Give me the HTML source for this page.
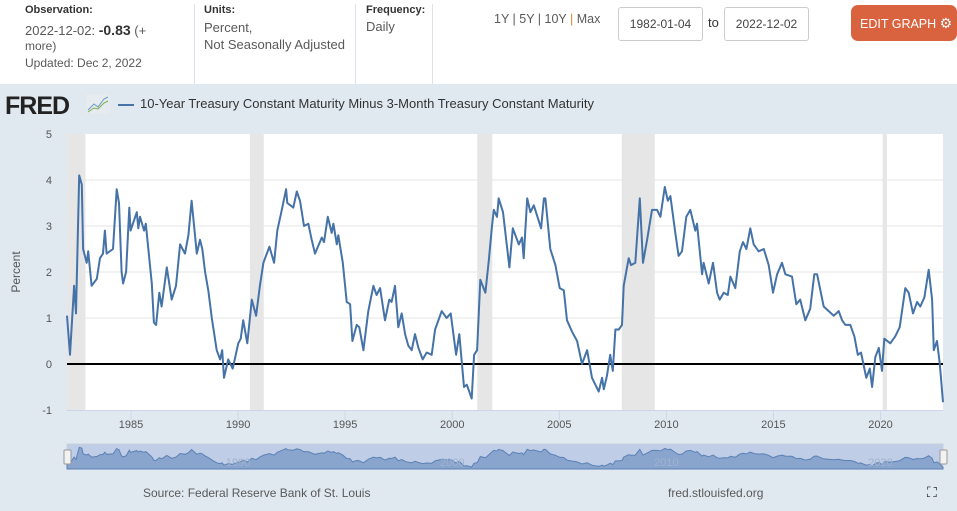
<!DOCTYPE html>
<html><head><meta charset="utf-8"><style>
*{margin:0;padding:0;box-sizing:border-box}
body{width:957px;height:511px;overflow:hidden;background:#e1e9f0;font-family:"Liberation Sans",sans-serif;position:relative}
.hdr{position:absolute;left:0;top:0;width:957px;height:84px;background:#fff}
.t{position:absolute;font-size:13px;color:#595959;white-space:nowrap}
.b{font-weight:bold;color:#333;font-size:11px}
.sep{position:absolute;top:4px;width:1px;height:80px;background:#dde3ea}
.inp{position:absolute;top:7px;height:34px;width:85px;border:1px solid #ccc;border-radius:3px;background:#fff;font-size:12px;color:#444;text-align:center;line-height:32px}
</style></head><body>
<div class="hdr">
<div class="t b" style="left:25px;top:4px">Observation:</div>
<div class="t" style="left:25px;top:22px">2022-12-02: <b style="color:#333;font-size:14px">-0.83</b> (+</div>
<div class="t" style="left:25px;top:39px;font-size:12px">more)</div>
<div class="t" style="left:25px;top:56px;font-size:12px">Updated: Dec 2, 2022</div>
<div class="sep" style="left:194px"></div>
<div class="t b" style="left:204px;top:4px">Units:</div>
<div class="t" style="left:204px;top:19px;line-height:17px">Percent,<br>Not Seasonally Adjusted</div>
<div class="sep" style="left:355px"></div>
<div class="t b" style="left:366px;top:4px">Frequency:</div>
<div class="t" style="left:366px;top:19px">Daily</div>
<div class="sep" style="left:432px"></div>
<div class="t" style="left:494px;top:12px;font-size:12.5px">1Y | 5Y | 10Y <span style="color:#d38a3c">|</span> Max</div>
<div class="inp" style="left:618px">1982-01-04</div>
<div class="t" style="left:708px;top:15px;color:#333">to</div>
<div class="inp" style="left:724px">2022-12-02</div>
<div style="position:absolute;left:851px;top:5px;width:106px;height:36px;background:#d9623f;border-radius:7px;color:#fff;font-size:12.5px;line-height:36px;padding-left:9px;white-space:nowrap">EDIT GRAPH <span style="font-size:14px">⚙</span></div>
</div>
<div style="position:absolute;left:5px;top:92px;font:900 25px 'Liberation Sans',sans-serif;color:#222;letter-spacing:-1px">FRED</div>
<svg style="position:absolute;left:86px;top:94px" width="24" height="20"><rect width="24" height="20" fill="#e6ebf0"/><polyline points="2,16 8,10 12,13 18,5 22,3" stroke="#6a9ac0" fill="none"/><polyline points="2,18 8,14 12,15 18,9 22,7" stroke="#7ab048" fill="none"/></svg>
<div style="position:absolute;left:118px;top:104px;width:16px;height:2px;background:#4572a7"></div>
<div class="t" style="left:140px;top:96px;color:#333;font-size:13px">10-Year Treasury Constant Maturity Minus 3-Month Treasury Constant Maturity</div>
<svg id="ch" width="957" height="511" style="position:absolute;left:0;top:0"></svg>
<div class="t" style="left:143px;top:486px;font-size:12px">Source: Federal Reserve Bank of St. Louis</div>
<div class="t" style="left:668px;top:486px;font-size:12px">fred.stlouisfed.org</div>
<div class="t" style="left:927px;top:484px;font-size:14px;color:#222">⛶</div>
<script>
const years=[1982.01,1982.15,1982.34,1982.43,1982.58,1982.70,1982.76,1982.93,1983.00,1983.16,1983.40,1983.55,1983.69,1983.78,1983.86,1984.16,1984.33,1984.44,1984.56,1984.63,1984.77,1984.92,1984.98,1985.27,1985.34,1985.42,1985.61,1985.69,1985.97,1986.07,1986.17,1986.32,1986.43,1986.67,1986.90,1987.10,1987.29,1987.52,1987.68,1987.83,1988.07,1988.22,1988.33,1988.46,1988.61,1988.77,1989.00,1989.16,1989.26,1989.34,1989.54,1989.75,1990.01,1990.12,1990.24,1990.43,1990.64,1990.84,1991.02,1991.18,1991.34,1991.46,1991.68,1991.83,1992.04,1992.24,1992.30,1992.58,1992.74,1992.89,1993.08,1993.28,1993.44,1993.59,1993.91,1994.01,1994.19,1994.37,1994.45,1994.61,1994.68,1994.89,1995.07,1995.23,1995.34,1995.54,1995.66,1995.85,1996.08,1996.32,1996.47,1996.63,1996.86,1997.06,1997.17,1997.33,1997.48,1997.64,1997.80,1997.95,1998.11,1998.26,1998.42,1998.62,1998.81,1999.04,1999.20,1999.51,1999.74,1999.93,2000.18,2000.33,2000.55,2000.68,2000.91,2001.02,2001.16,2001.31,2001.55,2001.71,2001.86,2001.94,2002.09,2002.17,2002.37,2002.67,2002.83,2003.11,2003.26,2003.34,2003.50,2003.65,2003.81,2004.15,2004.28,2004.35,2004.58,2004.82,2005.02,2005.21,2005.36,2005.60,2005.83,2006.06,2006.30,2006.53,2006.84,2007.00,2007.08,2007.23,2007.38,2007.50,2007.62,2007.78,2007.93,2008.01,2008.24,2008.35,2008.55,2008.76,2008.91,2009.10,2009.33,2009.57,2009.72,2009.93,2010.07,2010.19,2010.42,2010.57,2010.73,2010.93,2011.12,2011.35,2011.43,2011.67,2011.74,2011.98,2012.18,2012.37,2012.49,2012.68,2012.87,2012.99,2013.22,2013.43,2013.58,2013.74,2013.92,2014.08,2014.31,2014.55,2014.78,2014.98,2015.17,2015.40,2015.56,2015.87,2016.07,2016.25,2016.49,2016.72,2016.91,2017.04,2017.35,2017.58,2017.82,2018.05,2018.21,2018.36,2018.59,2018.78,2018.94,2019.09,2019.34,2019.50,2019.61,2019.76,2019.92,2020.07,2020.18,2020.46,2020.69,2020.90,2021.16,2021.32,2021.52,2021.71,2021.86,2022.05,2022.25,2022.41,2022.49,2022.64,2022.77,2022.92];
const spread=[1.05,0.2,1.7,1.1,4.1,3.9,2.5,2.2,2.45,1.7,1.85,2.3,2.4,2.9,2.4,2.5,3.8,3.5,2.0,1.75,2.0,3.4,2.9,3.3,2.95,3.2,2.9,3.05,1.75,0.9,0.85,1.55,1.25,2.1,1.4,1.7,2.6,2.4,2.8,3.55,2.4,2.7,2.5,2.0,1.6,1.0,0.3,0.1,0.3,-0.3,0.1,-0.1,0.45,0.55,0.95,0.45,1.4,1.05,1.7,2.2,2.4,2.55,2.2,2.9,3.35,3.8,3.5,3.4,3.75,3.55,3.0,3.05,2.7,2.4,2.75,2.65,3.2,2.85,3.05,2.6,2.8,2.2,1.35,1.3,0.5,0.85,0.8,0.3,1.15,1.7,1.5,1.65,0.95,1.4,1.35,1.7,0.8,1.1,0.65,0.4,0.3,0.65,0.35,0.1,0.25,0.2,0.75,1.15,1.0,1.1,0.2,0.65,-0.5,-0.45,-0.75,0.2,0.3,1.83,1.55,2.25,3.0,3.35,3.2,3.6,3.3,2.1,2.95,2.6,2.75,2.3,3.6,3.3,3.45,2.95,3.6,3.6,2.5,2.15,1.65,1.6,0.95,0.7,0.5,0.0,0.3,-0.3,-0.6,-0.3,-0.55,-0.25,0.2,-0.15,0.75,0.75,0.85,1.7,2.3,2.15,2.2,3.6,2.2,2.7,3.35,3.35,3.2,3.85,3.55,3.65,2.85,2.35,2.45,3.2,3.35,2.9,3.05,1.95,2.2,1.75,2.2,1.55,1.4,1.55,1.5,1.9,1.65,2.45,2.65,2.5,2.95,2.6,2.45,2.5,2.15,1.55,1.95,2.2,1.95,1.9,1.3,1.4,0.95,1.2,1.95,1.95,1.25,1.15,1.05,1.15,0.95,0.85,0.85,0.6,0.2,0.25,-0.3,-0.1,-0.5,0.15,0.35,-0.15,0.55,0.45,0.6,0.8,1.65,1.55,1.1,1.35,1.25,1.45,2.05,1.4,0.3,0.5,0.0,-0.83];
const recessions=[[1981.9,1982.87],[1990.55,1991.2],[2001.17,2001.87],[2007.92,2009.46],[2020.1,2020.3]];
const yTicks=[5,4,3,2,1,0,-1];
const xTicks=[1985,1990,1995,2000,2005,2010,2015,2020];
const navLabels=[1990,2000,2010,2020];
const NS='http://www.w3.org/2000/svg',svg=document.getElementById('ch');
const X0=67,X1=943,Y0=134,Y1=410,T0=1982.01,T1=2022.92;
const xs=t=>X0+(t-T0)/(T1-T0)*(X1-X0);
const ys=v=>Y0+(5-v)/6*(Y1-Y0);
function mk(tag,at){const e=document.createElementNS(NS,tag);for(const k in at)e.setAttribute(k,at[k]);svg.appendChild(e);return e;}
let e=mk('rect',{x:X0,y:Y0,width:X1-X0,height:Y1-Y0,fill:'#fff'});


recessions.forEach(r=>{const a=Math.max(xs(r[0]),X0),b=xs(r[1]);
const el=mk('rect',{x:a,y:Y0,width:b-a,height:Y1-Y0,fill:'#e6e6e6'});

});
yTicks.forEach(v=>{if(v!==-1&&v!==5&&v!==0){mk('line',{x1:X0,x2:X1,y1:ys(v),y2:ys(v),stroke:'#e6e6e6'});}
const t=mk('text',{x:52,y:ys(v)+4,'font-size':11,fill:'#555','text-anchor':'end','font-family':'Liberation Sans'});t.textContent=v;

});
mk('line',{x1:X0,x2:X1,y1:Y1+0.5,y2:Y1+0.5,stroke:'#ccd6eb'});
xTicks.forEach(y=>{const x=xs(y);mk('line',{x1:x,x2:x,y1:Y1,y2:Y1+10,stroke:'#ccd6eb'});
const t=mk('text',{x:x,y:428,'font-size':11,fill:'#555','text-anchor':'middle','font-family':'Liberation Sans'});t.textContent=y;

});
const yl=mk('text',{x:20,y:272,'font-size':12,fill:'#555','text-anchor':'middle',transform:'rotate(-90 20 272)','font-family':'Liberation Sans'});yl.textContent='Percent';


const zl=mk('line',{x1:X0,x2:X1,y1:ys(0),y2:ys(0),stroke:'#000','stroke-width':2});


const pts=years.map((t,i)=>xs(t).toFixed(1)+','+ys(spread[i]).toFixed(1)).join(' ');
const ln=mk('polyline',{points:pts,fill:'none',stroke:'#4572a7','stroke-width':2,'stroke-linejoin':'round'});


const NY0=444,NY1=469,ny=v=>NY0+3+(4.2-v)/5.2*(NY1-NY0-4);
const nb=mk('rect',{x:X0,y:NY0,width:X1-X0,height:NY1-NY0,fill:'#bfcde6',stroke:'#c8d0dc'});


const npts=years.map((t,i)=>xs(t).toFixed(1)+','+ny(spread[i]).toFixed(1)).join(' ');
const na=mk('polygon',{points:X0+','+NY1+' '+npts+' '+X1+','+NY1,fill:'#8aa5cd',stroke:'#5a80b5','stroke-width':1});


navLabels.forEach(y=>{const t=mk('text',{x:xs(y),y:466,'font-size':11,fill:'#9fb2cf','text-anchor':'middle','font-family':'Liberation Sans'});t.textContent=y;

});
[X0-3,X1-3].forEach(x=>{const h=mk('rect',{x:x,y:450,width:7,height:14,fill:'#f2f2f2',stroke:'#999',rx:1});

});
</script>
</body></html>
